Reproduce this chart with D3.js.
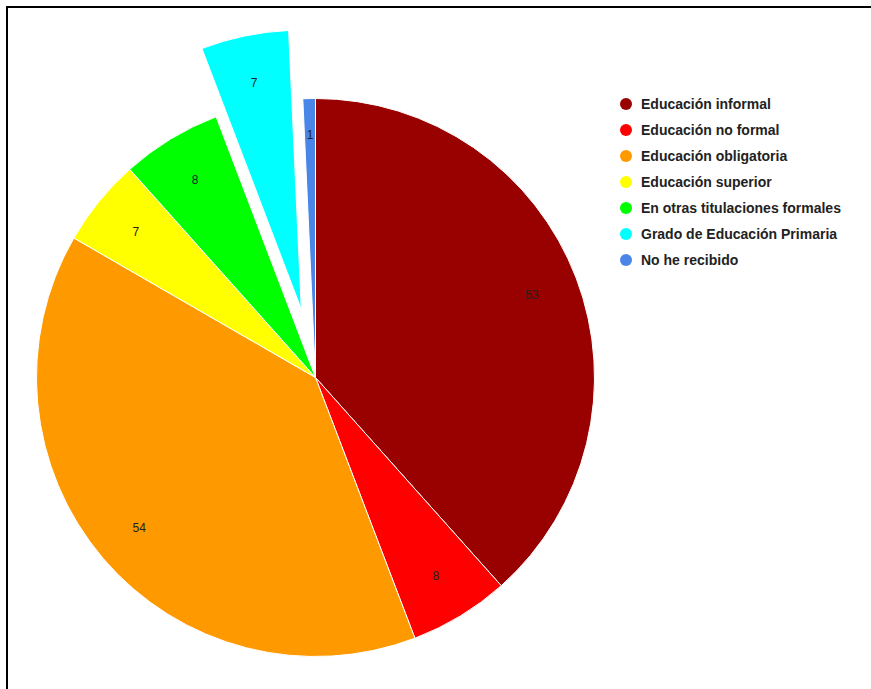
<!DOCTYPE html>
<html>
<head>
<meta charset="utf-8">
<script src="https://d3js.org/d3.v7.min.js"></script>
<style>
  body { margin: 0; background: #fff; }
  svg { display: block; font-family: Arial, "Liberation Sans", sans-serif; }
</style>
</head>
<body>
<div id="chart"></div>
<script>
// Width and height
var chart_width  = 871;
var chart_height = 689;

// Data
var categories = ['Educación informal', 'Educación no formal', 'Educación obligatoria',
                  'Educación superior', 'En otras titulaciones formales',
                  'Grado de Educación Primaria', 'No he recibido'];
var values  = [53, 8, 54, 7, 8, 7, 1];
var colors  = ['#990000', '#ff0000', '#ff9900', '#ffff00', '#00ff00', '#00ffff', '#4a86e8'];
var exploded = ['Grado de Educación Primaria'];

var cx = 315.5, cy = 377.5, radius = 279;

var svg = d3.select('#chart')
    .append('svg')
    .attr('width', chart_width)
    .attr('height', chart_height);

// frame
svg.append('path')
    .attr('d', 'M7,' + chart_height + ' V7 H' + chart_width)
    .attr('fill', 'none')
    .attr('stroke', '#000')
    .attr('stroke-width', 2);

var color = d3.scaleOrdinal().domain(categories).range(colors);

var pie = d3.pie().sort(null).value(function(d){ return d.value; });
var data = categories.map(function(c, i){ return { name: c, value: values[i] }; });
var arcs = pie(data);

var arc = d3.arc().innerRadius(0).outerRadius(radius);
var labelArc = d3.arc().innerRadius(radius * 0.83).outerRadius(radius * 0.83);
var smallArc = d3.arc().innerRadius(radius * 0.87).outerRadius(radius * 0.87);

function offset(d){
    if (exploded.indexOf(d.data.name) < 0) return [0, 0];
    var a = (d.startAngle + d.endAngle) / 2;
    var off = radius * 0.25;
    return [Math.sin(a) * off, -Math.cos(a) * off];
}

var g = svg.append('g').attr('transform', 'translate(' + cx + ',' + cy + ')');

var slice = g.selectAll('g.slice')
    .data(arcs)
    .enter()
    .append('g')
    .attr('class', 'slice')
    .attr('transform', function(d){
        var o = offset(d);
        return 'translate(' + o[0] + ',' + o[1] + ')';
    });

slice.append('path')
    .attr('d', arc)
    .attr('fill', function(d){ return color(d.data.name); })
    .attr('stroke', '#fff')
    .attr('stroke-width', 1);

slice.append('text')
    .attr('transform', function(d){
        var frac = (d.endAngle - d.startAngle) / (2 * Math.PI);
        var p = frac < 0.02 ? smallArc.centroid(d) : labelArc.centroid(d);
        return 'translate(' + p + ')';
    })
    .attr('dy', '0.35em')
    .attr('text-anchor', 'middle')
    .attr('font-size', 12)
    .attr('fill', '#222')
    .text(function(d){ return d.data.value; });

// Legend
var legend = svg.append('g').attr('transform', 'translate(626,104)');
var item = legend.selectAll('g')
    .data(categories)
    .enter()
    .append('g')
    .attr('transform', function(d, i){ return 'translate(0,' + (i * 26) + ')'; });

item.append('circle')
    .attr('r', 6)
    .attr('fill', function(d){ return color(d); });

item.append('text')
    .attr('x', 15)
    .attr('dy', '0.35em')
    .attr('font-size', 14)
    .attr('font-weight', 'bold')
    .attr('fill', '#222')
    .text(function(d){ return d; });
</script>
</body>
</html>
